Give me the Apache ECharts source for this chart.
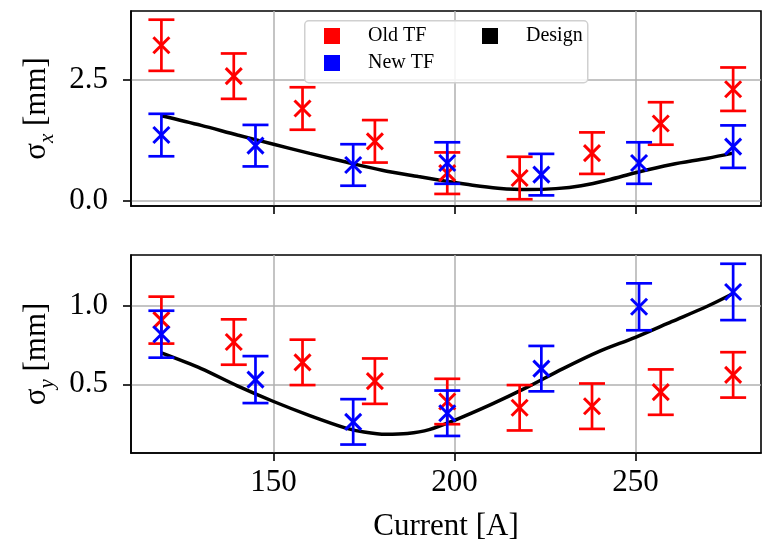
<!DOCTYPE html>
<html>
<head>
<meta charset="utf-8">
<script src="https://cdn.jsdelivr.net/npm/echarts@6/dist/echarts.min.js"></script>
<style>html,body{margin:0;padding:0;background:#fff}#c{width:766px;height:543px}</style>
</head>
<body>
<div id="c"></div>
<script>
// ---- data ----
const oldI = [119, 139, 158, 178, 198, 218, 238, 257, 277];
const newI = [119, 145, 172, 198, 224, 251, 277];
const oldSx = [3.22, 2.58, 1.91, 1.23, 0.57, 0.47, 0.985, 1.60, 2.31];
const oldSxErr = [0.53, 0.47, 0.44, 0.44, 0.43, 0.44, 0.43, 0.44, 0.45];
const newSx = [1.36, 1.14, 0.74, 0.78, 0.54, 0.78, 1.12];
const newSxErr = [0.44, 0.43, 0.43, 0.43, 0.43, 0.43, 0.44];
const oldSy = [0.91, 0.77, 0.64, 0.52, 0.39, 0.35, 0.36, 0.45, 0.56];
const oldSyErr = [0.15, 0.145, 0.145, 0.145, 0.145, 0.145, 0.145, 0.145, 0.145];
const newSy = [0.82, 0.53, 0.26, 0.315, 0.60, 0.995, 1.09];
const newSyErr = [0.15, 0.15, 0.145, 0.145, 0.145, 0.15, 0.18];
const designI = [119, 130, 140, 150, 160, 170, 180, 190, 198, 205, 212, 220, 228, 235, 243, 250, 260, 270, 277];
const designSx = [1.76, 1.56, 1.36, 1.17, 0.98, 0.80, 0.63, 0.50, 0.40, 0.32, 0.26, 0.23, 0.25, 0.31, 0.44, 0.58, 0.75, 0.88, 0.985];
const designI2 = [119, 130, 140, 150, 160, 170, 175, 181, 187, 193, 200, 210, 220, 230, 240, 250, 260, 270, 277];
const designSy = [0.70, 0.60, 0.49, 0.39, 0.30, 0.22, 0.195, 0.18, 0.185, 0.21, 0.27, 0.37, 0.48, 0.60, 0.71, 0.80, 0.90, 1.00, 1.08];
const xTicks = [150, 200, 250];
const sxTicks = [0.0, 2.5];
const syTicks = [0.5, 1.0];

const FONT = 'Liberation Serif';
const zip3 = (a, b, c) => a.map((v, i) => [v, b[i], c[i]]);
const zip2 = (a, b) => a.map((v, i) => [v, b[i]]);

function errRender(color) {
  return function (params, api) {
    const x = api.value(0), y = api.value(1), e = api.value(2);
    const top = api.coord([x, y + e]);
    const bot = api.coord([x, y - e]);
    const c = api.coord([x, y]);
    const cw = 13, m = 8;
    const st = { stroke: color, lineWidth: 2.7 };
    return {
      type: 'group',
      children: [
        { type: 'line', shape: { x1: top[0], y1: top[1], x2: bot[0], y2: bot[1] }, style: st },
        { type: 'line', shape: { x1: top[0] - cw, y1: top[1], x2: top[0] + cw, y2: top[1] }, style: st },
        { type: 'line', shape: { x1: bot[0] - cw, y1: bot[1], x2: bot[0] + cw, y2: bot[1] }, style: st },
        { type: 'line', shape: { x1: c[0] - m, y1: c[1] - m, x2: c[0] + m, y2: c[1] + m }, style: { stroke: color, lineWidth: 3 } },
        { type: 'line', shape: { x1: c[0] - m, y1: c[1] + m, x2: c[0] + m, y2: c[1] - m }, style: { stroke: color, lineWidth: 3 } }
      ]
    };
  };
}

const grids = [
  { left: 131, right: 5, top: 11, height: 195, show: true, borderColor: '#000', borderWidth: 1.6, backgroundColor: 'transparent' },
  { left: 131, right: 5, top: 255, height: 198, show: true, borderColor: '#000', borderWidth: 1.6, backgroundColor: 'transparent' }
];

function xAxis(gi, showLabels) {
  return {
    type: 'value', gridIndex: gi, min: 110.6, max: 284.7,
    name: showLabels ? 'Current [A]' : '', nameLocation: 'middle', nameGap: 58,
    nameTextStyle: { fontFamily: FONT, fontSize: 31, color: '#000' },
    axisLine: { show: true, onZero: false, lineStyle: { color: '#000', width: 1.6 } },
    axisTick: { show: true, length: 8, customValues: xTicks, lineStyle: { color: '#000', width: 1.6 } },
    axisLabel: { show: showLabels, customValues: xTicks, margin: 14, fontFamily: FONT, fontSize: 31, color: '#000' },
    splitLine: { show: true, lineStyle: { color: '#b0b0b0', width: 1.5 } }
  };
}
function yAxis(gi, min, max, ticks, nameRich) {
  return {
    type: 'value', gridIndex: gi, min: min, max: max,
    name: nameRich, nameLocation: 'middle', nameGap: 76, nameRotate: 90,
    nameTextStyle: {
      fontFamily: FONT, fontSize: 31, color: '#000',
      rich: {
        a: { fontFamily: FONT, fontSize: 31, color: '#000' },
        s: { fontFamily: FONT, fontSize: 21, fontStyle: 'italic', color: '#000', verticalAlign: 'bottom', padding: [0, 0, -6, 0] }
      }
    },
    axisLine: { show: true, onZero: false, lineStyle: { color: '#000', width: 1.6 } },
    axisTick: { show: true, length: 8, customValues: ticks, lineStyle: { color: '#000', width: 1.6 } },
    axisLabel: { customValues: ticks, margin: 23, fontFamily: FONT, fontSize: 31, color: '#000', formatter: v => v.toFixed(1) },
    splitLine: { show: true, lineStyle: { color: '#b0b0b0', width: 1.5 } }
  };
}

const legendText = {
  fontFamily: FONT, fontSize: 20, color: '#000',
  rich: { c: { fontFamily: FONT, fontSize: 20, color: '#000', padding: [0, 0, 0, 23] } }
};
function legend(left, names, colors) {
  return {
    left: left, top: 26, orient: 'vertical', padding: 0, itemGap: 7, itemWidth: 16, itemHeight: 16, z: 6,
    data: names.map((n, i) => ({ name: n, icon: 'rect', itemStyle: { color: colors[i] } })),
    formatter: n => '{c|' + n + '}',
    textStyle: legendText
  };
}

const option = {
  animation: false,
  backgroundColor: '#fff',
  textStyle: { fontFamily: FONT },
  grid: grids,
  graphic: [{
    type: 'rect', left: 304, top: 20, z: 5,
    shape: { width: 283, height: 62, r: 4 },
    style: { fill: 'rgba(255,255,255,0.85)', stroke: '#d0d0d0', lineWidth: 1.5 }
  }],
  legend: [
    legend(324, ['Old TF', 'New TF'], ['#ff0000', '#0000ff']),
    legend(482, ['Design'], ['#000'])
  ],
  xAxis: [xAxis(0, false), xAxis(1, true)],
  yAxis: [
    yAxis(0, -0.11, 3.93, sxTicks, '{a|σ}{s|x}{a| [mm]}'),
    yAxis(1, 0.061, 1.326, syTicks, '{a|σ}{s|y}{a| [mm]}')
  ],
  series: [
    { name: 'Design', type: 'line', xAxisIndex: 0, yAxisIndex: 0, data: zip2(designI, designSx), smooth: 0.3, showSymbol: false, lineStyle: { color: '#000', width: 3.5 }, itemStyle: { color: '#000' }, z: 2 },
    { name: 'Old TF', type: 'custom', xAxisIndex: 0, yAxisIndex: 0, data: zip3(oldI, oldSx, oldSxErr), renderItem: errRender('#ff0000'), itemStyle: { color: '#ff0000' }, z: 3 },
    { name: 'New TF', type: 'custom', xAxisIndex: 0, yAxisIndex: 0, data: zip3(newI, newSx, newSxErr), renderItem: errRender('#0000ff'), itemStyle: { color: '#0000ff' }, z: 4 },
    { name: 'Design', type: 'line', xAxisIndex: 1, yAxisIndex: 1, data: zip2(designI2, designSy), smooth: 0.3, showSymbol: false, lineStyle: { color: '#000', width: 3.5 }, itemStyle: { color: '#000' }, z: 2 },
    { name: 'Old TF', type: 'custom', xAxisIndex: 1, yAxisIndex: 1, data: zip3(oldI, oldSy, oldSyErr), renderItem: errRender('#ff0000'), itemStyle: { color: '#ff0000' }, z: 3 },
    { name: 'New TF', type: 'custom', xAxisIndex: 1, yAxisIndex: 1, data: zip3(newI, newSy, newSyErr), renderItem: errRender('#0000ff'), itemStyle: { color: '#0000ff' }, z: 4 }
  ]
};
const chart = echarts.init(document.getElementById('c'), null, { renderer: 'canvas' });
chart.setOption(option);
</script>
</body>
</html>
